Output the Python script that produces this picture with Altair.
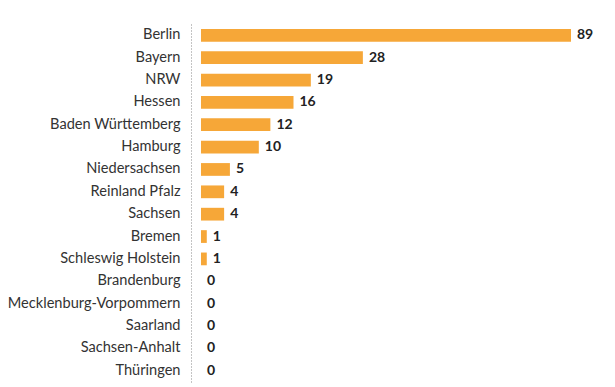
import altair as alt
import pandas as pd

states = ["Berlin", "Bayern", "NRW", "Hessen", "Baden Württemberg", "Hamburg",
          "Niedersachsen", "Reinland Pfalz", "Sachsen", "Bremen", "Schleswig Holstein",
          "Brandenburg", "Mecklenburg-Vorpommern", "Saarland", "Sachsen-Anhalt", "Thüringen"]
values = [89, 28, 19, 16, 12, 10, 5, 4, 4, 1, 1, 0, 0, 0, 0, 0]

df = pd.DataFrame({"state": states, "value": values})

y = alt.Y("state:N", sort=states, title=None,
          scale=alt.Scale(paddingInner=0.43, paddingOuter=0.22),
          axis=alt.Axis(offset=10, domain=True, domainColor="#888", domainDash=[1, 2],
                        domainWidth=1, ticks=False, labelPadding=11,
                        labelFont="Lato", labelFontSize=14.6, labelColor="#333"))
x = alt.X("value:Q", title=None, axis=None,
          scale=alt.Scale(domain=[0, 64], clamp=True, nice=False))

bars = alt.Chart(df).mark_bar(color="#F6A738").encode(x=x, y=y)
labels = alt.Chart(df).mark_text(align="left", baseline="middle", dx=6,
                                 font="Lato", fontSize=14, fontWeight="bold",
                                 color="#222").encode(x=x, y=y, text="value:Q")

chart = (bars + labels).properties(
    width=370, height=358,
    autosize=alt.AutoSizeParams(type="none"),
    padding={"left": 193, "top": 16, "right": 30, "bottom": 5},
).configure_view(stroke=None)

chart.save("out.html", embed_options={"renderer": "svg", "actions": False})
